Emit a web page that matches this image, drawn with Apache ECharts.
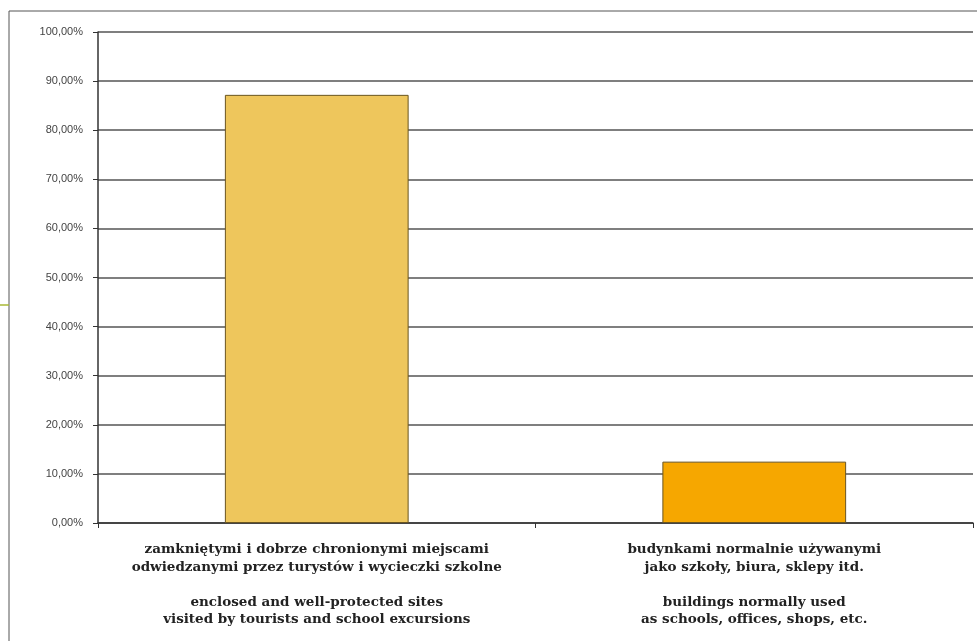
<!DOCTYPE html>
<html><head><meta charset="utf-8">
<script src="https://cdn.jsdelivr.net/npm/echarts@6/dist/echarts.min.js"></script>
<style>html,body{margin:0;padding:0;background:#fff}#c{width:977px;height:641px}</style>
</head><body><div id="c"></div>
<script>
const categories = [
  "zamkniętymi i dobrze chronionymi miejscami\nodwiedzanymi przez turystów i wycieczki szkolne\n\nenclosed and well-protected sites\nvisited by tourists and school excursions",
  "budynkami normalnie używanymi\njako szkoły, biura, sklepy itd.\n\nbuildings normally used\nas schools, offices, shops, etc."
];
const values = [87.2, 12.5];
const barColors = ["#EEC65C", "#F6A700"];
const yTicks = { min: 0, max: 100, interval: 10 };

const chart = echarts.init(document.getElementById('c'));
chart.setOption({
  backgroundColor: '#fff',
  animation: false,
  grid: { left: 98, right: 4, top: 32, bottom: 118 },
  xAxis: {
    type: 'category', data: categories,
    axisLine: { lineStyle: { color: '#333', width: 1.5 } },
    axisTick: { show: true, length: 5, lineStyle: { color: '#333' } },
    axisLabel: { color: '#222', fontFamily: 'DejaVu Serif', fontWeight: 'bold', fontSize: 13.5, lineHeight: 17.5, margin: 18, interval: 0 }
  },
  yAxis: {
    type: 'value', min: yTicks.min, max: yTicks.max, interval: yTicks.interval,
    axisLine: { show: true, lineStyle: { color: '#333', width: 1.5 } },
    axisTick: { show: true, length: 5, lineStyle: { color: '#333' } },
    axisLabel: { color: '#444', fontFamily: 'Liberation Sans', fontSize: 11, margin: 15,
      formatter: v => v.toFixed(2).replace('.', ',') + '%' },
    splitLine: { lineStyle: { color: '#555', width: 1.5 } }
  },
  series: [{
    type: 'bar', barWidth: '42%',
    data: values.map((v, i) => ({ value: v, itemStyle: { color: barColors[i] } })),
    itemStyle: { borderColor: '#6a5520', borderWidth: 1 }
  }],
  graphic: [
    { type: 'line', shape: { x1: 9, y1: 11, x2: 977, y2: 11 }, style: { stroke: '#555', lineWidth: 1 } },
    { type: 'line', shape: { x1: 9, y1: 11, x2: 9, y2: 641 }, style: { stroke: '#555', lineWidth: 1 } },
    { type: 'line', shape: { x1: 0, y1: 305, x2: 9, y2: 305 }, style: { stroke: '#a9b936', lineWidth: 1.5 } }
  ]
});
</script></body></html>
